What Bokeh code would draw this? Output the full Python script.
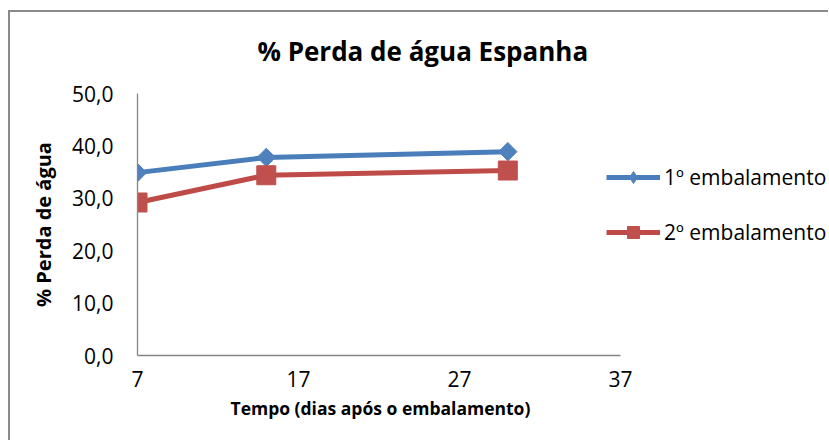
import math
from bokeh.plotting import figure
from bokeh.layouts import column
from bokeh.models import Range1d, FixedTicker, Legend, LegendItem, ColumnDataSource, Title
from bokeh.embed import file_html
from bokeh.resources import INLINE

# ---- data ----
days = [7, 15, 30]
embal_1 = [34.9, 37.8, 38.9]
embal_2 = [29.2, 34.4, 35.3]
series_names = ["1º embalamento", "2º embalamento"]
x_ticks = [7, 17, 27, 37]
y_ticks = [0, 10, 20, 30, 40, 50]
y_tick_labels = ["0,0", "10,0", "20,0", "30,0", "40,0", "50,0"]
title_text = "% Perda de água Espanha"
x_title = "Tempo (dias após o embalamento)"
y_title = "% Perda de água"

BLUE_LINE = "#4A7EBB"
BLUE_FILL = "#4F81BD"
RED_LINE = "#BE4B48"
RED_FILL = "#C0504D"
GRAY = "#868686"
FONT = "Open Sans"

# ---- layout geometry (pixels) ----
FIG_W, FIG_H = 818, 428
LEFT, TOP, FRAME_H = 127, 81, 262
AXIS_LEN = 483                      # pixels spanned by x = 7 .. 37
FRAME_W = FIG_W - LEFT
x_start, x_end_axis = x_ticks[0], x_ticks[-1]
x_end = x_start + (x_end_axis - x_start) * FRAME_W / AXIS_LEN

src1 = ColumnDataSource(dict(x=days, y=embal_1))
src2 = ColumnDataSource(dict(x=days, y=embal_2))

p = figure(frame_width=FRAME_W, frame_height=FRAME_H,
           min_border_left=LEFT, min_border_right=0,
           min_border_top=TOP, min_border_bottom=FIG_H - TOP - FRAME_H,
           x_range=Range1d(x_start, x_end), y_range=Range1d(0, 50),
           output_backend="svg", toolbar_location=None)
p.outline_line_color = None
p.xgrid.visible = False
p.ygrid.visible = False

# spacer between frame and title
p.add_layout(Title(text=" ", text_font_size="1px", standoff=17), "above")

# title
p.title.text = title_text
p.title.text_font = FONT
p.title.text_font_size = "26px"
p.title.text_font_style = "bold"
p.title.text_color = "#000000"
p.title.align = "left"
p.title.offset = 120
p.title.standoff = 10

# axes
for ax in (p.xaxis[0], p.yaxis[0]):
    ax.axis_line_color = GRAY
    ax.axis_line_width = 1.3
    ax.major_tick_line_color = None
    ax.minor_tick_line_color = None
    ax.major_tick_out = 0
    ax.major_tick_in = 0
    ax.major_label_text_font = FONT
    ax.major_label_text_font_size = "21px"
    ax.major_label_text_color = "#000000"
    ax.axis_label_text_font = FONT
    ax.axis_label_text_font_style = "bold"
    ax.axis_label_text_color = "#000000"

p.xaxis.bounds = (x_start, x_end_axis)
p.xaxis.ticker = FixedTicker(ticks=x_ticks)
p.yaxis.ticker = FixedTicker(ticks=y_ticks)
p.yaxis.major_label_overrides = {t: l for t, l in zip(y_ticks, y_tick_labels)}
p.xaxis.major_label_standoff = 15
p.yaxis.major_label_standoff = 24
p.yaxis.axis_label = y_title
p.yaxis.axis_label_text_font_size = "20px"
p.yaxis.axis_label_standoff = 12

# x-axis title, centred under the axis span (not under the wider frame)
p.add_layout(Title(text=x_title, text_font=FONT, text_font_size="17.5px",
                   text_font_style="bold", text_color="#000000",
                   align="left", offset=93, vertical_align="top", standoff=12), "below")

# series
l1 = p.line("x", "y", source=src1, line_color=BLUE_LINE, line_width=5)
m1 = p.scatter("x", "y", source=src1, marker="square", angle=math.pi / 4, size=13,
               fill_color=BLUE_FILL, line_color=BLUE_FILL)
m1_leg = p.scatter("x", "y", source=src1, marker="diamond", size=0,
                   fill_color=BLUE_FILL, line_color=BLUE_FILL)
l2 = p.line("x", "y", source=src2, line_color=RED_LINE, line_width=5)
m2 = p.scatter("x", "y", source=src2, marker="square", size=19,
               fill_color=RED_FILL, line_color=RED_FILL)

legend = Legend(items=[LegendItem(label=series_names[0], renderers=[l1, m1_leg]),
                       LegendItem(label=series_names[1], renderers=[l2, m2])],
                location=(469, 108), orientation="vertical")
legend.padding = 0
legend.margin = 0
legend.glyph_width = 54
legend.glyph_height = 30
legend.spacing = 25
legend.label_standoff = 4
legend.label_text_font = FONT
legend.label_text_font_size = "21px"
legend.label_text_color = "#000000"
legend.border_line_color = None
legend.background_fill_alpha = 0
p.add_layout(legend, "center")

# chart-area border (left and top edges visible in the window)
layout = column(p, margin=(10, 0, 0, 8),
                styles={"border-left": "2px solid #8a8a8a", "border-top": "2px solid #8a8a8a"})

open("out.html", "w").write(file_html(layout, INLINE))
